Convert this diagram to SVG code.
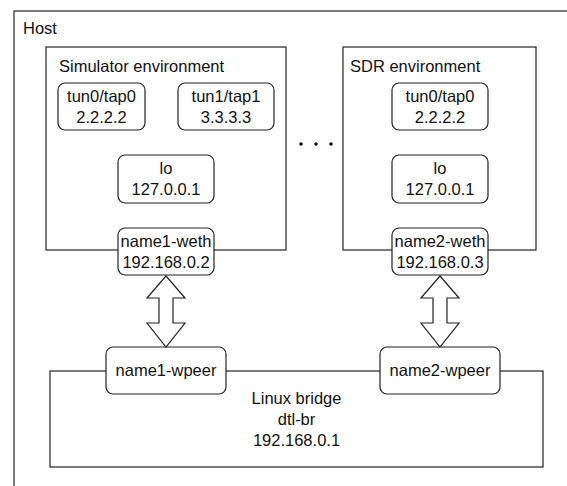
<svg xmlns="http://www.w3.org/2000/svg" width="567" height="486" viewBox="0 0 567 486">
<style>
text{font-family:"Liberation Sans",Arial,sans-serif;font-size:16.5px;fill:#111}
.c{text-anchor:middle}
.box{fill:#fff;stroke:#222;stroke-width:1.2}
.env{fill:#fff;stroke:#222;stroke-width:1.2}
.arr{fill:#fff;stroke:#222;stroke-width:1.2;stroke-linejoin:miter}
</style>
<rect x="0" y="0" width="567" height="486" fill="#fff"/>
<g id="host">
<rect x="14" y="11" width="570" height="490" fill="none" stroke="#222" stroke-width="1.2"/>
<text x="23" y="34">Host</text>
</g>
<g id="bridge">
<rect x="50" y="371" width="493" height="96" class="env"/>
<text class="c" x="296.5" y="404">Linux bridge</text>
<text class="c" x="296.5" y="425">dtl-br</text>
<text class="c" x="296.5" y="446">192.168.0.1</text>
</g>
<g id="sim-env">
<rect x="46" y="47" width="240" height="203" class="env"/>
<text x="59" y="72">Simulator environment</text>
</g>
<g id="sdr-env">
<rect x="343" y="47" width="193" height="203" class="env"/>
<text x="350" y="72">SDR environment</text>
</g>
<g id="ellipsis">
<circle cx="301" cy="144" r="1.8" fill="#111"/>
<circle cx="316" cy="144" r="1.8" fill="#111"/>
<circle cx="331" cy="144" r="1.8" fill="#111"/>
</g>
<g id="sim-tun0">
<rect x="58" y="83" width="87" height="47" rx="7" class="box"/>
<text class="c" x="101.5" y="102">tun0/tap0</text>
<text class="c" x="101.5" y="123">2.2.2.2</text>
</g>
<g id="sim-tun1">
<rect x="178" y="83" width="96" height="47" rx="7" class="box"/>
<text class="c" x="226" y="102">tun1/tap1</text>
<text class="c" x="226" y="123">3.3.3.3</text>
</g>
<g id="sim-lo">
<rect x="118" y="155" width="96" height="48" rx="7" class="box"/>
<text class="c" x="166" y="174">lo</text>
<text class="c" x="166" y="195">127.0.0.1</text>
</g>
<g id="name1-weth">
<rect x="118" y="228" width="96" height="47" rx="7" class="box"/>
<text class="c" x="166" y="247">name1-weth</text>
<text class="c" x="166" y="268">192.168.0.2</text>
</g>
<g id="sdr-tun0">
<rect x="392" y="83" width="96" height="47" rx="7" class="box"/>
<text class="c" x="440" y="102">tun0/tap0</text>
<text class="c" x="440" y="123">2.2.2.2</text>
</g>
<g id="sdr-lo">
<rect x="392" y="155" width="96" height="48" rx="7" class="box"/>
<text class="c" x="440" y="174">lo</text>
<text class="c" x="440" y="195">127.0.0.1</text>
</g>
<g id="name2-weth">
<rect x="392" y="228" width="96" height="47" rx="7" class="box"/>
<text class="c" x="440" y="247">name2-weth</text>
<text class="c" x="440" y="268">192.168.0.3</text>
</g>
<g id="name1-wpeer">
<rect x="106" y="347" width="120" height="47" rx="7" class="box"/>
<text class="c" x="166" y="376">name1-wpeer</text>
</g>
<g id="name2-wpeer">
<rect x="380" y="347" width="120" height="47" rx="7" class="box"/>
<text class="c" x="440" y="376">name2-wpeer</text>
</g>
<g id="connectors">
<path class="arr" d="M166 276 L185 298 L173 298 L173 323 L185 323 L166 347 L147 323 L159 323 L159 298 L147 298 Z"/>
<path class="arr" d="M440 276 L459 298 L447 298 L447 323 L459 323 L440 347 L421 323 L433 323 L433 298 L421 298 Z"/>
</g>
</svg>
